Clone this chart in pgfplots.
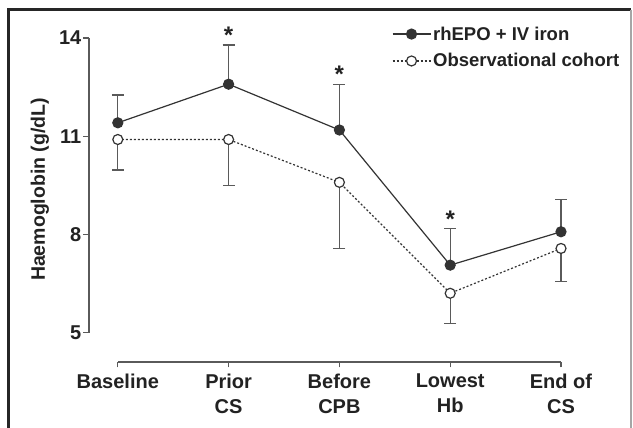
\documentclass[border=0pt]{standalone}
\usepackage{pgfplots}
\pgfplotsset{compat=1.18}
\usepackage{fontspec}
\setmainfont{Liberation Sans}
\definecolor{txt}{HTML}{222222}
\definecolor{ln}{HTML}{333333}
\definecolor{ax}{HTML}{5A5A5A}
\begin{document}
\begin{tikzpicture}
\useasboundingbox (0pt,0pt) rectangle (633pt,428pt);
\fill[white] (0pt,0pt) rectangle (633pt,428pt);
\draw[line width=3pt, black!85] (8pt,0pt) -- (8pt,418pt) -- (631pt,418pt);
\draw[line width=1.2pt, gray!70] (631pt,418pt) -- (631pt,0pt);
\begin{axis}[
 at={(89pt,66pt)}, anchor=south west,
 scale only axis, width=527.4pt, height=340.3pt,
 xmin=-0.26, xmax=4.5, ymin=4.1, ymax=14.5,
 axis lines*=left, axis line style={draw=none},
 xtick={0,1,2,3,4},
 xticklabels={Baseline,{Prior\\CS},{Before\\CPB},{Lowest\\Hb},{End of\\CS}},
 ytick={5,8,11,14},
 tick align=outside, major tick length=5.5pt,
 tick style={ax, line width=1.3pt},
 xticklabel style={align=center, font=\fontsize{20}{24.5}\selectfont\bfseries, text=txt, inner sep=6.5pt},
 yticklabel style={font=\fontsize{20}{23}\selectfont\bfseries, text=txt, inner sep=2pt},
 /pgf/number format/assume math mode=true,
 ylabel={Haemoglobin (g/dL)},
 ylabel style={at={(axis description cs:-0.093,0.507)}, anchor=center, font=\fontsize{19.5}{22}\selectfont\bfseries, text=txt},
 clip=false,
 legend style={draw=none, fill=none, at={(axis description cs:0.574,0.992)}, anchor=north west,
   font=\fontsize{18.5}{22}\selectfont\bfseries, text=txt, row sep=8pt, inner sep=0pt},
 legend cell align=left,
 legend image code/.code={\draw[#1, mark repeat=2, mark phase=2] plot coordinates {(0pt,0pt) (19pt,0pt) (38pt,0pt)};},
]
\draw[ax, line width=1.3pt] (axis cs:-0.26,5) -- (axis cs:-0.26,14);
\draw[ax, line width=1.3pt] (axis cs:0,4.1) -- (axis cs:4,4.1);

\addplot[ln, line width=1.2pt, mark=*, mark size=5pt, mark options={solid, fill=ln, draw=ln},
  error bars/y dir=plus, error bars/y explicit, error bars/error mark=|,
  error bars/error bar style={ax, line width=1.3pt, solid},
  error bars/error mark options={ax, line width=1.3pt, mark size=6pt, solid}]
  coordinates {(0,11.41) +- (0,0.85) (1,12.59) +- (0,1.20) (2,11.19) +- (0,1.40) (3,7.06) +- (0,1.12) (4,8.08) +- (0,0.99)};
\addlegendentry{rhEPO + IV iron}

\addplot[ln, line width=1.2pt, dash pattern=on 2pt off 2pt, mark=*, mark size=5pt, mark options={solid, fill=white, draw=ln},
  error bars/y dir=minus, error bars/y explicit, error bars/error mark=|,
  error bars/error bar style={ax, line width=1.3pt, solid},
  error bars/error mark options={ax, line width=1.3pt, mark size=6pt, solid}]
  coordinates {(0,10.90) +- (0,0.93) (1,10.90) +- (0,1.41) (2,9.59) +- (0,2.02) (3,6.20) +- (0,0.92) (4,7.57) +- (0,1.02)};
\addlegendentry{Observational cohort}

\addplot[forget plot, draw=none, mark=none, nodes near coords={\bfseries *},
  every node near coord/.style={anchor=south, font=\fontsize{24}{24}\selectfont, text=txt, inner sep=1pt}]
  coordinates {(1,13.79) (2,12.59) (3,8.18)};
\end{axis}
\end{tikzpicture}
\end{document}
